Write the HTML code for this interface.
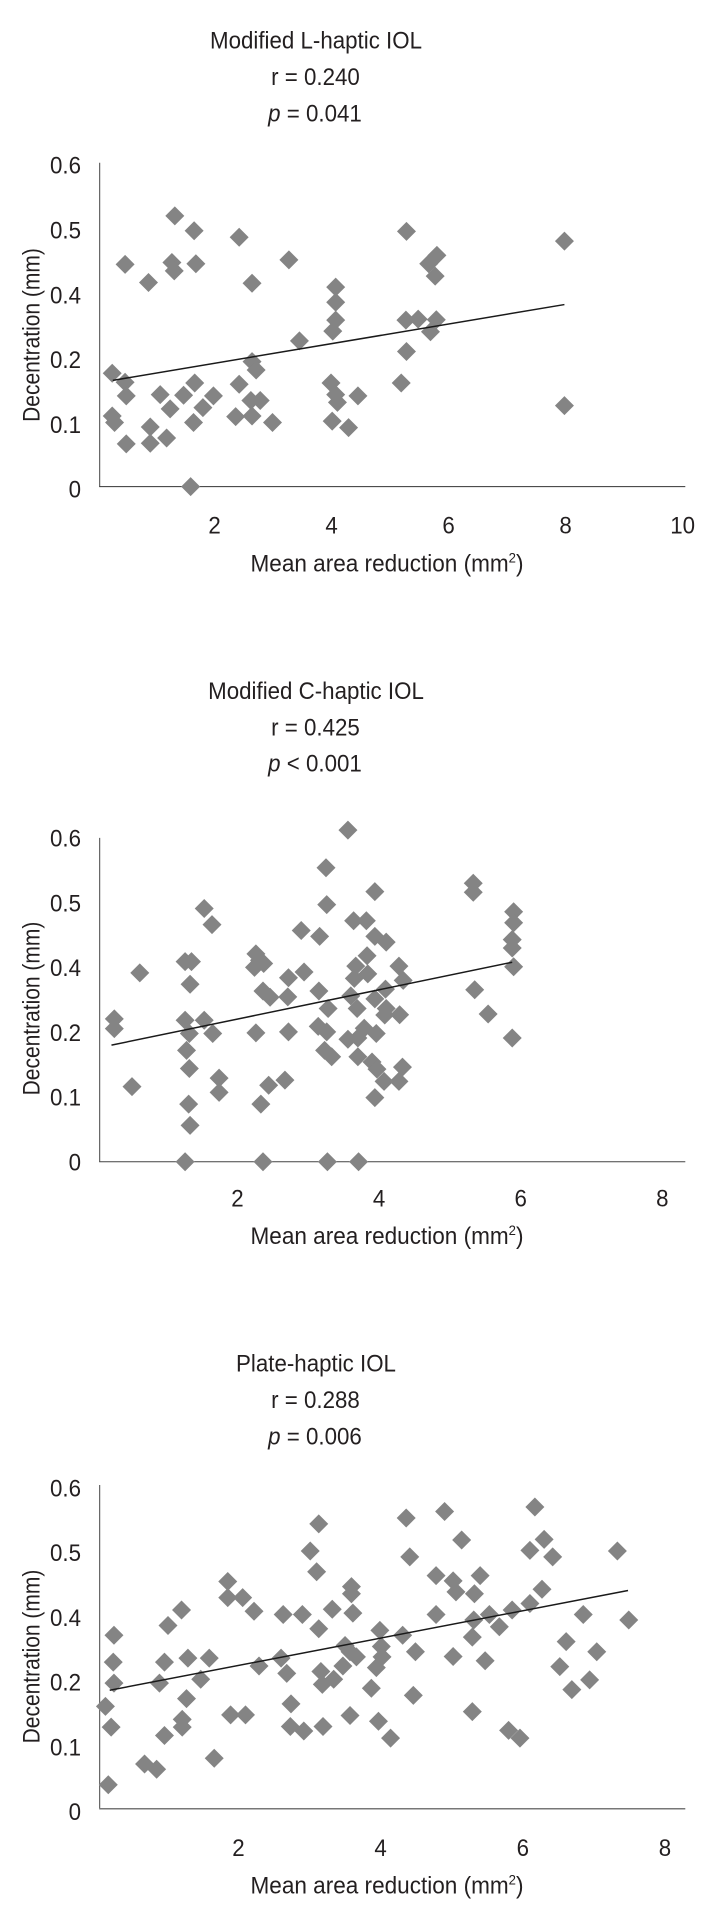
<!DOCTYPE html>
<html lang="en">
<head>
<meta charset="utf-8">
<title>Decentration vs mean area reduction</title>
<style>
html,body{margin:0;padding:0;background:#fff;}
svg{display:block;}
text{font-family:"Liberation Sans",Arial,sans-serif;fill:#231f20;font-size:24px;}
</style>
</head>
<body>
<svg id="figure" width="710" height="1920" viewBox="0 0 710 1920" xmlns="http://www.w3.org/2000/svg">
  <rect width="710" height="1920" fill="#ffffff"/>
  <g text-anchor="middle">
    <text transform="translate(316,48.3) scale(.93,1)">Modified L-haptic IOL</text>
    <text transform="translate(315.5,85) scale(.93,1)">r = 0.240</text>
    <text transform="translate(315,121.7) scale(.93,1)"><tspan font-style="italic">p</tspan> = 0.041</text>
  </g>
  <g text-anchor="middle">
    <text transform="translate(316,699) scale(.93,1)">Modified C-haptic IOL</text>
    <text transform="translate(315.5,735.3) scale(.93,1)">r = 0.425</text>
    <text transform="translate(315,771.7) scale(.93,1)"><tspan font-style="italic">p</tspan> &lt; 0.001</text>
  </g>
  <g text-anchor="middle">
    <text transform="translate(316,1371.6) scale(.93,1)">Plate-haptic IOL</text>
    <text transform="translate(315.5,1408) scale(.93,1)">r = 0.288</text>
    <text transform="translate(315,1444.3) scale(.93,1)"><tspan font-style="italic">p</tspan> = 0.006</text>
  </g>
  <g text-anchor="middle">
    <text transform="translate(39.3,335) rotate(-90) scale(.875,1)">Decentration (mm)</text>
    <text transform="translate(387,571.7) scale(.94,1)">Mean area reduction (mm<tspan font-size="14" dy="-9">2</tspan><tspan dy="9">)</tspan></text>
    <text transform="translate(39.3,1008.5) rotate(-90) scale(.875,1)">Decentration (mm)</text>
    <text transform="translate(387,1244) scale(.94,1)">Mean area reduction (mm<tspan font-size="14" dy="-9">2</tspan><tspan dy="9">)</tspan></text>
    <text transform="translate(39.3,1656.5) rotate(-90) scale(.875,1)">Decentration (mm)</text>
    <text transform="translate(387,1893.6) scale(.94,1)">Mean area reduction (mm<tspan font-size="14" dy="-9">2</tspan><tspan dy="9">)</tspan></text>
  </g>
</svg>
<script>
// Printed y-axis labels (the source figure's axis skips 0.3 and spaces ticks evenly)
const yTickLabels = ['0', '0.1', '0.2', '0.4', '0.5', '0.6'];
const yTickValues = [0, 0.1, 0.2, 0.4, 0.5, 0.6];

const lHapticXTicks = [2, 4, 6, 8, 10];
const lHapticX = [0.25,0.47,0.49,0.25,0.29,0.49,0.47,0.87,0.90,0.90,1.18,1.07,1.24,1.32,1.27,1.31,1.65,1.68,1.47,1.66,1.64,1.80,1.98,1.59,2.36,2.42,2.42,2.64,2.64,2.71,2.62,2.78,2.64,2.99,3.27,3.45,4.01,3.99,4.07,4.10,4.29,4.45,4.07,4.07,4.07,4.02,5.28,5.27,5.48,5.28,5.19,5.66,5.80,5.77,5.79,5.69,7.98,7.98];
const lHapticY = [0.175,0.161,0.140,0.109,0.099,0.066,0.443,0.415,0.092,0.067,0.075,0.142,0.120,0.518,0.446,0.433,0.495,0.444,0.141,0.160,0.099,0.122,0.140,0,0.108,0.158,0.485,0.414,0.193,0.180,0.133,0.133,0.109,0.099,0.450,0.250,0.101,0.160,0.142,0.130,0.091,0.140,0.408,0.369,0.314,0.280,0.494,0.314,0.317,0.217,0.160,0.444,0.457,0.425,0.315,0.278,0.479,0.125];
const lHapticTrendX = [0.26, 7.98];
const lHapticTrendY = [0.164, 0.362];

const cHapticXTicks = [2, 4, 6, 8];
const cHapticX = [0.26,0.26,0.62,0.51,1.26,1.35,1.33,1.26,1.32,1.28,1.32,1.31,1.33,1.26,1.53,1.64,1.53,1.65,1.74,1.74,2.26,2.26,2.24,2.37,2.31,2.36,2.46,2.33,2.44,2.36,2.67,2.71,2.72,2.72,2.90,2.94,3.16,3.15,3.25,3.26,3.28,3.14,3.26,3.23,3.33,3.27,3.56,3.64,3.82,3.94,3.94,4.10,3.83,3.67,3.84,3.65,4.28,4.34,3.60,3.69,3.94,4.09,4.10,4.08,4.29,3.79,3.56,3.70,3.96,3.70,3.90,3.97,4.07,4.28,4.33,3.94,3.71,5.33,5.33,5.90,5.90,5.88,5.88,5.90,5.35,5.54,5.88];
const cHapticY = [0.241,0.211,0.383,0.116,0.409,0.409,0.348,0.237,0.198,0.172,0.144,0.089,0.056,0,0.491,0.466,0.237,0.198,0.129,0.107,0.199,0.421,0.400,0.406,0.411,0.327,0.308,0.089,0.118,0,0.126,0.309,0.368,0.201,0.457,0.386,0.448,0.327,0.554,0.497,0.273,0.218,0.201,0.172,0.162,0,0.612,0.472,0.472,0.517,0.448,0.439,0.418,0.402,0.380,0.366,0.402,0.360,0.312,0.273,0.303,0.333,0.273,0.253,0.254,0.212,0.189,0.191,0.198,0.162,0.154,0.143,0.124,0.124,0.146,0.099,0,0.530,0.516,0.486,0.469,0.443,0.430,0.401,0.331,0.256,0.191];
const cHapticTrendX = [0.22, 5.88];
const cHapticTrendY = [0.180, 0.408];

const plateXTicks = [2, 4, 6, 8];
const plateX = [0.13,0.21,0.17,0.25,0.24,0.25,0.68,0.85,0.89,0.96,0.96,1.01,1.20,1.21,1.21,1.27,1.29,1.47,1.59,1.66,1.85,1.85,1.89,2.06,2.10,2.22,2.29,2.60,2.68,2.63,2.90,2.74,2.73,2.92,3.01,3.13,3.10,3.13,3.16,3.18,3.34,3.47,3.19,3.32,3.50,3.57,3.66,3.59,3.59,3.61,3.57,3.87,3.99,4.01,4.02,3.94,3.97,4.14,4.31,4.36,4.41,4.49,4.46,4.78,4.78,4.90,5.02,5.06,5.02,5.14,5.32,5.40,5.31,5.29,5.47,5.29,5.53,5.67,5.85,5.80,5.96,6.10,6.17,6.30,6.42,6.27,6.10,6.61,6.52,6.69,6.85,6.94,7.04,7.33,7.49];
const plateY = [0.158,0.126,0.037,0.336,0.253,0.194,0.069,0.061,0.194,0.253,0.113,0.366,0.407,0.138,0.126,0.170,0.265,0.200,0.265,0.078,0.451,0.426,0.145,0.426,0.145,0.405,0.241,0.265,0.218,0.400,0.400,0.162,0.127,0.120,0.498,0.540,0.466,0.356,0.224,0.192,0.200,0.241,0.127,0.408,0.304,0.285,0.269,0.443,0.432,0.402,0.144,0.186,0.351,0.301,0.269,0.236,0.135,0.109,0.336,0.549,0.489,0.285,0.175,0.460,0.400,0.559,0.452,0.435,0.270,0.515,0.432,0.460,0.383,0.330,0.257,0.150,0.400,0.362,0.407,0.121,0.109,0.499,0.566,0.516,0.489,0.439,0.417,0.316,0.239,0.184,0.400,0.199,0.285,0.498,0.383];
const plateTrendX = [0.19, 7.48];
const plateTrendY = [0.183, 0.437];

const SVG_NS = 'http://www.w3.org/2000/svg';
const figure = document.getElementById('figure');

function svgEl(tag) {
  return document.createElementNS(SVG_NS, tag);
}

function drawChart(opts) {
  const group = svgEl('g');
  
  
  figure.appendChild(group);

  // axis functions
  const xScale = function (v) { return opts.x0 + v * opts.xUnit; };
  const yScale = function (v) {
    const step = (opts.yBottom - opts.yTop) / (yTickValues.length - 1);
    let i = 0;
    while (i < yTickValues.length - 2 && v > yTickValues[i + 1]) i++;
    const f = (v - yTickValues[i]) / (yTickValues[i + 1] - yTickValues[i]);
    return opts.yBottom - (i + f) * step;
  };

  const yAxis = svgEl('line');
  
  
  yAxis.setAttribute('x1', 99.7);
  yAxis.setAttribute('x2', 99.7);
  yAxis.setAttribute('y1', opts.yTop);
  yAxis.setAttribute('y2', opts.yBottom);
  yAxis.setAttribute('stroke', '#444444');
  yAxis.setAttribute('stroke-width', '1');
  group.appendChild(yAxis);

  const xAxis = svgEl('line');
  
  
  xAxis.setAttribute('x1', 99.2);
  xAxis.setAttribute('x2', 685.3);
  xAxis.setAttribute('y1', opts.yBottom);
  xAxis.setAttribute('y2', opts.yBottom);
  xAxis.setAttribute('stroke', opts.axisColor);
  xAxis.setAttribute('stroke-width', opts.axisWidth);
  group.appendChild(xAxis);

  yTickValues.forEach(function (v, i) {
    const t = svgEl('text');
    
    
    t.setAttribute('text-anchor', 'end');
    t.setAttribute('transform', 'translate(81,' + (yScale(v) + opts.yLabelDy) + ') scale(.93,1)');
    t.textContent = yTickLabels[i];
    group.appendChild(t);
  });

  opts.xTicks.forEach(function (v) {
    const t = svgEl('text');
    
    
    t.setAttribute('text-anchor', 'middle');
    t.setAttribute('transform', 'translate(' + xScale(v) + ',' + opts.xLabelY + ') scale(.93,1)');
    t.textContent = String(v);
    group.appendChild(t);
  });

  opts.xs.forEach(function (xv, i) {
    const px = xScale(xv);
    const py = yScale(opts.ys[i]);
    const d = svgEl('polygon');
    
    
    d.setAttribute('points', (px - 9.5) + ',' + py + ' ' + px + ',' + (py - 9.5) + ' ' + (px + 9.5) + ',' + py + ' ' + px + ',' + (py + 9.5));
    d.setAttribute('fill', '#848484');
    group.appendChild(d);
  });

  const trend = svgEl('line');
  
  
  trend.setAttribute('x1', xScale(opts.trendX[0]));
  trend.setAttribute('y1', yScale(opts.trendY[0]));
  trend.setAttribute('x2', xScale(opts.trendX[1]));
  trend.setAttribute('y2', yScale(opts.trendY[1]));
  trend.setAttribute('stroke', '#1a1a1a');
  trend.setAttribute('stroke-width', '1.5');
  group.appendChild(trend);
}

drawChart({name: 'l-haptic', x0: 97.6, xUnit: 58.5, yTop: 162.7, yBottom: 486.6, yLabelDy: 11, xLabelY: 533.5, axisColor: '#333333', axisWidth: 1, xTicks: lHapticXTicks, xs: lHapticX, ys: lHapticY, trendX: lHapticTrendX, trendY: lHapticTrendY});
drawChart({name: 'c-haptic', x0: 95.9, xUnit: 70.8, yTop: 837.9, yBottom: 1161.7, yLabelDy: 8.6, xLabelY: 1206.3, axisColor: '#444444', axisWidth: 1, xTicks: cHapticXTicks, xs: cHapticX, ys: cHapticY, trendX: cHapticTrendX, trendY: cHapticTrendY});
drawChart({name: 'plate-haptic', x0: 96.2, xUnit: 71.1, yTop: 1485, yBottom: 1808.7, yLabelDy: 11.4, xLabelY: 1856, axisColor: '#777777', axisWidth: 1.5, xTicks: plateXTicks, xs: plateX, ys: plateY, trendX: plateTrendX, trendY: plateTrendY});
</script>
</body>
</html>
